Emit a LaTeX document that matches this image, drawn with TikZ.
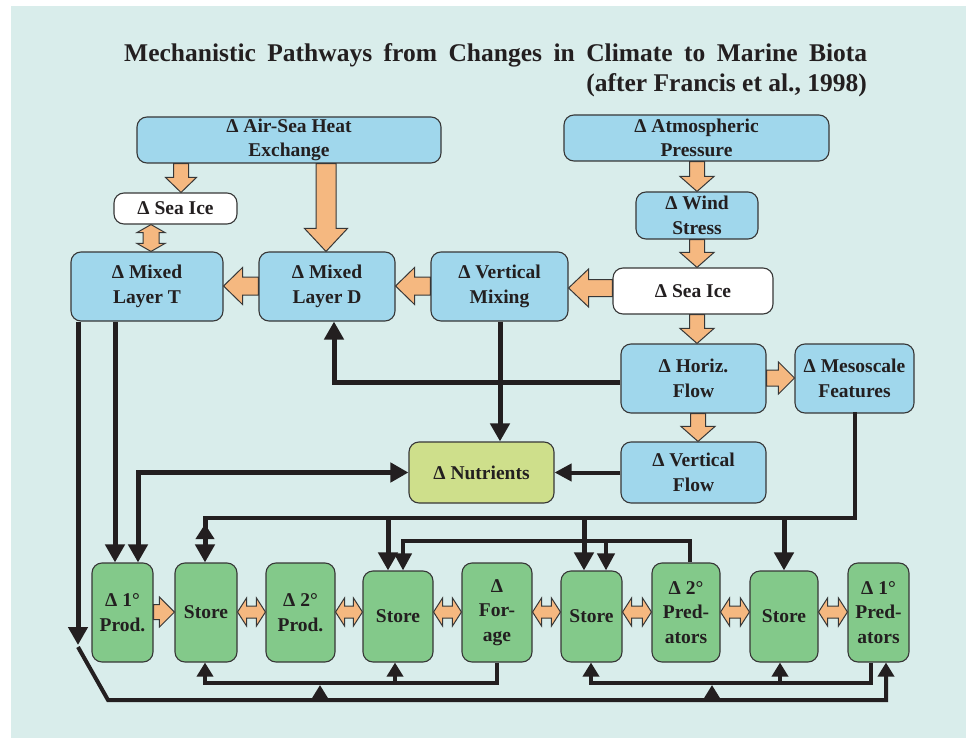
\documentclass[tikz,border=0pt]{standalone}
\usepackage{fontspec}
\setmainfont{Liberation Serif}
\usetikzlibrary{arrows.meta,calc}
\definecolor{bgcol}{RGB}{217,237,235}
\definecolor{boxblue}{RGB}{160,215,236}
\definecolor{boxgreen}{RGB}{131,201,138}
\definecolor{boxnut}{RGB}{206,223,139}
\definecolor{arrorange}{RGB}{245,184,128}
\definecolor{edgecol}{RGB}{55,55,55}
\definecolor{linecol}{RGB}{35,31,32}
\definecolor{txtcol}{RGB}{35,31,32}
\newcommand\bxfont{\fontsize{19.5}{24.5}\selectfont\bfseries}
\newcommand\ttlfont{\fontsize{25.5}{30}\selectfont\bfseries}
% single block arrow: start, tip, half shaft, half head, head length
\newcommand\barrow[5]{%
  \path ($(#2)!#5pt!(#1)$) coordinate (bac);
  \draw[blockarr] ($(#1)!#3pt!90:(#2)$) -- ($(bac)!#3pt!-90:(#1)$) -- ($(bac)!#4pt!-90:(#1)$) -- (#2) -- ($(bac)!#4pt!90:(#1)$) -- ($(bac)!#3pt!90:(#1)$) -- ($(#1)!#3pt!-90:(#2)$) -- cycle;
}
% double block arrow: tip A, tip B, half shaft, half head, head length
\newcommand\dbarrow[5]{%
  \path ($(#1)!#5pt!(#2)$) coordinate (bca) ($(#2)!#5pt!(#1)$) coordinate (bcb);
  \draw[blockarr] (#1) -- ($(bca)!#4pt!90:(#2)$) -- ($(bca)!#3pt!90:(#2)$) -- ($(bcb)!#3pt!-90:(#1)$) -- ($(bcb)!#4pt!-90:(#1)$) -- (#2) -- ($(bcb)!#4pt!90:(#1)$) -- ($(bcb)!#3pt!90:(#1)$) -- ($(bca)!#3pt!-90:(#2)$) -- ($(bca)!#4pt!-90:(#2)$) -- cycle;
}
\begin{document}
\begin{tikzpicture}[x=1pt,y=-1pt,
  box/.style={draw=edgecol, line width=1.1pt, rounded corners=10pt, inner sep=0pt, align=center, font=\bxfont, text=txtcol},
  bluebox/.style={box, fill=boxblue},
  whitebox/.style={box, fill=white},
  greenbox/.style={box, fill=boxgreen},
  nutbox/.style={box, fill=boxnut},
  sz/.style 2 args={minimum width=#1pt, minimum height=#2pt},
  blockarr/.style={draw=edgecol, line width=1pt, fill=arrorange, line join=miter},
  conn/.style={draw=linecol, line join=miter},
  thk/.style={conn, line width=5pt},
  thn/.style={conn, line width=4pt},
  bigtip/.style={-{Triangle[length=18pt,width=19pt]}},
  medtip/.style={-{Triangle[length=17pt,width=17pt]}},
  smalltip/.style={-{Triangle[length=14pt,width=16pt]}},
]
\fill[white] (0,0) rectangle (966,738);
\fill[bgcol] (11,6) rectangle (966,738);
\useasboundingbox (0,0) rectangle (966,738);

% title
\node[anchor=base west, inner sep=0pt, font=\ttlfont, text=txtcol] (title1) at (124,62) {\makebox[743pt][s]{Mechanistic Pathways from Changes in Climate to Marine Biota}};
\node[anchor=base east, inner sep=0pt, font=\ttlfont, text=txtcol] (title2) at (867,92) {(after Francis et al., 1998)};

% upper boxes
\node[bluebox, sz={304}{46}] (airsea) at (289,140) {\raisebox{-2pt}{Δ Air-Sea Heat}\\\raisebox{-2pt}{Exchange}};
\node[whitebox, sz={123}{31}] (iceL) at (175.5,208.5) {Δ Sea Ice};
\node[bluebox, sz={152}{69}] (mlt) at (147,286.5) {Δ Mixed\\Layer T};
\node[bluebox, sz={136}{69}] (mld) at (327,286.5) {Δ Mixed\\Layer D};
\node[bluebox, sz={137}{69}] (vmix) at (499.5,286.5) {Δ Vertical\\Mixing};
\node[bluebox, sz={265}{46}] (atm) at (696.5,138) {Δ Atmospheric\\Pressure};
\node[bluebox, sz={122}{47}] (wind) at (697,215.5) {Δ Wind\\Stress};
\node[whitebox, sz={160}{46}] (iceR) at (693,291) {Δ Sea Ice};
\node[bluebox, sz={145}{69}] (horiz) at (693.5,378.5) {Δ Horiz.\\Flow};
\node[bluebox, sz={119}{69}] (meso) at (854.5,378.5) {Δ Mesoscale\\Features};
\node[bluebox, sz={145}{61}] (vflow) at (693.5,472.5) {Δ Vertical\\Flow};
\node[nutbox, sz={145}{61}] (nutr) at (481.5,472.5) {Δ Nutrients};

% bottom row
\node[greenbox, sz={61}{99}] (p1) at (122.5,612.5) {Δ 1°\\Prod.};
\node[greenbox, sz={62}{99}] (s1) at (206,612.5) {Store};
\node[greenbox, sz={69}{99}] (p2) at (300.5,612.5) {Δ 2°\\Prod.};
\node[greenbox, sz={70}{91}] (s2) at (398,616.5) {Store};
\node[greenbox, sz={70}{99}] (forage) at (497,612.5) {Δ\\For-\\age};
\node[greenbox, sz={61}{91}] (s3) at (591.5,616.5) {Store};
\node[greenbox, sz={68}{99}] (pred2) at (686,612.5) {Δ 2°\\Pred-\\ators};
\node[greenbox, sz={68}{91}] (s4) at (784,616.5) {Store};
\node[greenbox, sz={61}{99}] (pred1) at (878.5,612.5) {Δ 1°\\Pred-\\ators};

% helper coordinates
\coordinate (ax1) at (181,0);
\coordinate (ax2) at (151,0);
\coordinate (ax3) at (326,0);
\coordinate (ax4) at (697,0);
\coordinate (ax5) at (698,0);
\coordinate (ay1) at (0,286);
\coordinate (ay2) at (0,288);
\coordinate (ay3) at (0,378);
\coordinate (ay4) at (0,612);

% block arrows
\barrow{airsea.south -| ax1}{iceL.north -| ax1}{7.5}{15.5}{15}
\dbarrow{iceL.south -| ax2}{mlt.north -| ax2}{8}{14}{8}
\barrow{airsea.south -| ax3}{mld.north -| ax3}{10}{21.5}{23}
\barrow{mld.west |- ay1}{mlt.east |- ay1}{9}{18.5}{19}
\barrow{vmix.west |- ay1}{mld.east |- ay1}{9}{18.5}{19}
\barrow{iceR.west |- ay2}{vmix.east |- ay2}{8.5}{19}{20}
\barrow{atm.south -| ax4}{wind.north -| ax4}{7.5}{17}{15}
\barrow{wind.south -| ax4}{iceR.north -| ax4}{7.5}{17}{15}
\barrow{iceR.south -| ax4}{horiz.north -| ax4}{7.5}{17}{15}
\barrow{horiz.south -| ax5}{vflow.north -| ax5}{7.5}{17}{15}
\barrow{horiz.east |- ay3}{meso.west |- ay3}{8}{16}{16}
\barrow{p1.east |- ay4}{s1.west |- ay4}{7.5}{15}{15}
\dbarrow{s1.east |- ay4}{p2.west |- ay4}{6}{14}{9}
\dbarrow{p2.east |- ay4}{s2.west |- ay4}{6}{14}{9}
\dbarrow{s2.east |- ay4}{forage.west |- ay4}{6}{14}{9}
\dbarrow{forage.east |- ay4}{s3.west |- ay4}{6}{14}{9}
\dbarrow{s3.east |- ay4}{pred2.west |- ay4}{6}{14}{9}
\dbarrow{pred2.east |- ay4}{s4.west |- ay4}{6}{14}{9}
\dbarrow{s4.east |- ay4}{pred1.west |- ay4}{6}{14}{9}

% connector coordinates
\coordinate (cA) at (78,0);
\coordinate (r645) at (0,645);
\coordinate (k1) at (78,647);
\coordinate (k2) at (108,700);
\coordinate (c115) at (115,0);
\coordinate (c138) at (138,0);
\coordinate (c500) at (500,0);
\coordinate (c334) at (334,0);
\coordinate (r382) at (0,382);
\coordinate (r518) at (0,518);
\coordinate (r541) at (0,541);
\coordinate (r683) at (0,683);
\coordinate (r700) at (0,700);
\coordinate (c205) at (205,0);
\coordinate (c388) at (388,0);
\coordinate (c584) at (584,0);
\coordinate (c784) at (784,0);
\coordinate (c690) at (690,0);
\coordinate (c403) at (403,0);
\coordinate (c606) at (606,0);
\coordinate (c395) at (395,0);
\coordinate (c871) at (871,0);
\coordinate (c591) at (591,0);
\coordinate (c780) at (780,0);
\coordinate (c886) at (886,0);
\coordinate (c320) at (320,0);
\coordinate (c712) at (712,0);

% black connectors
\draw[thk,bigtip] (mlt.south -| cA) -- (cA |- r645);
\draw[thn,smalltip] (k1) -- (k2) -- (c886 |- r700) -- (pred1.south -| c886);
\draw[thk,bigtip] (mlt.south -| c115) -- (p1.north -| c115);
\draw[thk,{Triangle[length=18pt,width=19pt]}-{Triangle[length=18pt,width=19pt]}] (nutr.west) -- (c138 |- nutr.west) -- (p1.north -| c138);
\draw[thk,bigtip] (vmix.south -| c500) -- (nutr.north -| c500);
\draw[thk,bigtip] (horiz.west |- r382) -- (c334 |- r382) -- (mld.south -| c334);
\draw[thn,medtip] (vflow.west) -- (nutr.east);

\draw[thn,medtip] (pred2.north -| c690) -- (c690 |- r541) -- (c403 |- r541) -- (s2.north -| c403);
\draw[thn,medtip] (c606 |- r541) -- (s3.north -| c606);

\draw[thn,line cap=rect] (meso.south) -- (meso.south |- r518) -- (c205 |- r518);
\draw[thk,bigtip] (c205 |- r518) -- (s1.north -| c205);
\draw[thn,-{Triangle[length=15pt,width=18pt]}] (c205 |- r541) -- ++(0,-17);
\draw[thk,bigtip] (c388 |- r518) -- (s2.north -| c388);
\draw[thk,bigtip] (c584 |- r518) -- (s3.north -| c584);
\draw[thk,bigtip] (c784 |- r518) -- (s4.north -| c784);

\draw[thn,smalltip] (forage.south) -- (forage.south |- r683) -- (c205 |- r683) -- (s1.south -| c205);
\draw[thn,smalltip] (c395 |- r683) -- (s2.south -| c395);
\draw[thn,smalltip] (pred1.south -| c871) -- (c871 |- r683) -- (c591 |- r683) -- (s3.south -| c591);
\draw[thn,smalltip] (c780 |- r683) -- (s4.south -| c780);

\draw[thn,smalltip] (c320 |- r700) -- ++(0,-15);
\draw[thn,smalltip] (c712 |- r700) -- ++(0,-15);
\end{tikzpicture}
\end{document}
